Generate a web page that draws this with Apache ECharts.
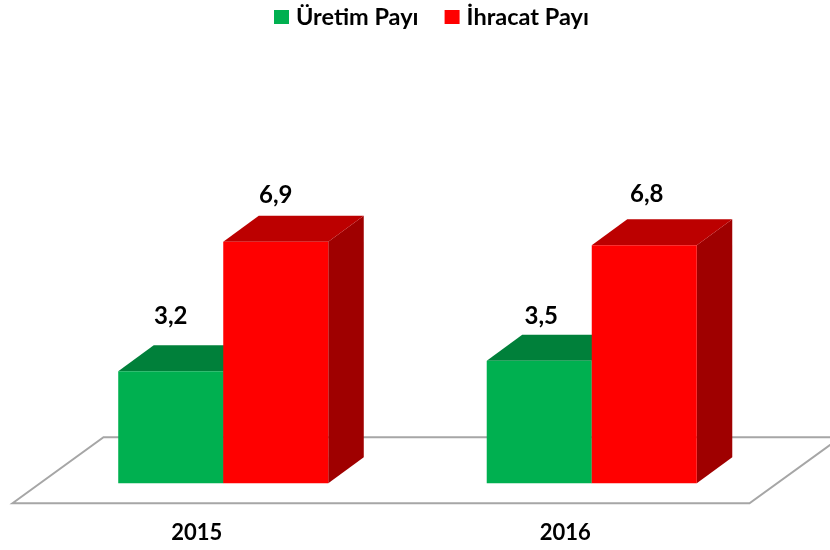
<!DOCTYPE html>
<html lang="tr">
<head>
    <meta charset="UTF-8">
    <script type="text/javascript" src="https://cdn.jsdelivr.net/npm/echarts@6/dist/echarts.min.js"></script>
    <title>Üretim ve İhracat Payı</title>
    <style type="text/css">
        html, body { margin: 0; padding: 0; background: #fff; }
        #chart { width: 830px; height: 550px; }
    </style>
</head>
<body>
    <div id="chart"></div>
    <script type="text/javascript">
        const years = ["2015", "2016"]
        const uretimPayi = [3.2, 3.5]
        const ihracatPayi = [6.9, 6.8]

        const font = "Lato, Carlito, sans-serif"
        const depthX = 35.5 // bar depth, px
        const depthY = 26
        const barShare = 0.285 // bar width as a share of the category band
        const shiftX = 26.5 // the bars stand further back than the front floor edge

        // label lift above the front face, the source places these by hand
        const uretimLabel = [[0, 55], [2, 45]]
        const ihracatLabel = [[0, 47], [2.5, 51]]

        // side: -1 left bar, 0 right bar
        function bar3d(side, colors, labelPos) {
            return function (params, api) {
                let i = api.value(0)
                let top = api.coord([i, api.value(1)])
                let base = api.coord([i, 0])
                let w = api.size([1, 0])[0] * barShare
                let x = top[0] + shiftX + side * w
                let y0 = base[1]
                let y1 = top[1]
                return {
                    type: "group",
                    children: [
                        {
                            type: "polygon",
                            shape: { points: [[x + w, y1], [x + w + depthX, y1 - depthY], [x + w + depthX, y0 - depthY], [x + w, y0]] },
                            style: { fill: colors[2] }
                        },
                        {
                            type: "polygon",
                            shape: { points: [[x, y1], [x + depthX, y1 - depthY], [x + w + depthX, y1 - depthY], [x + w, y1]] },
                            style: { fill: colors[1] }
                        },
                        {
                            type: "rect",
                            shape: { x: x, y: y1, width: w, height: y0 - y1 },
                            style: { fill: colors[0] }
                        },
                        {
                            type: "text",
                            style: {
                                x: x + w / 2 + labelPos[i][0],
                                y: y1 - labelPos[i][1],
                                text: api.value(1).toFixed(1).replace(".", ","),
                                fill: "#000",
                                font: "bold 24px " + font,
                                textAlign: "center",
                                textVerticalAlign: "middle"
                            }
                        }
                    ]
                }
            }
        }

        function renderFloor(params, api) {
            let rect = params.coordSys
            let y = api.coord([0, 0])[1]
            return {
                type: "polygon",
                shape: {
                    points: [
                        [rect.x, y + 20],
                        [rect.x + 91, y - 46],
                        [rect.x + rect.width + 91, y - 46],
                        [rect.x + rect.width, y + 20]
                    ]
                },
                style: { fill: "#fff", stroke: "#a6a6a6", lineWidth: 2 }
            }
        }

        let chart = echarts.init(document.getElementById("chart"))
        chart.setOption({
            animation: false,
            backgroundColor: "#fff",
            legend: {
                data: ["Üretim Payı", "İhracat Payı"],
                left: 269,
                top: 0,
                icon: "rect",
                itemWidth: 15,
                itemHeight: 14,
                itemGap: 26,
                selectedMode: false,
                textStyle: { fontFamily: font, fontWeight: "bold", fontSize: 23.5, color: "#000", padding: [0, 0, 0, 2] }
            },
            grid: { left: 12.5, right: 80.5, top: 133.3, bottom: 66.7 },
            xAxis: {
                type: "category",
                data: years,
                axisLine: { show: false },
                axisTick: { show: false },
                axisLabel: { margin: 39, fontFamily: font, fontWeight: "bold", fontSize: 22, color: "#000" }
            },
            yAxis: { type: "value", min: 0, max: 10, show: false },
            series: [
                {
                    type: "custom",
                    name: "floor",
                    silent: true,
                    z: 1,
                    clip: false,
                    data: [[0, 0]],
                    encode: { x: 0, y: 1 },
                    renderItem: renderFloor
                },
                {
                    type: "custom",
                    name: "Üretim Payı",
                    z: 2,
                    itemStyle: { color: "#00B050" },
                    data: years.map((y, i) => [i, uretimPayi[i]]),
                    encode: { x: 0, y: 1 },
                    renderItem: bar3d(-1, ["#00B050", "#00803A", "#006B30"], uretimLabel)
                },
                {
                    type: "custom",
                    name: "İhracat Payı",
                    z: 3,
                    itemStyle: { color: "#FF0000" },
                    data: years.map((y, i) => [i, ihracatPayi[i]]),
                    encode: { x: 0, y: 1 },
                    renderItem: bar3d(0, ["#FF0000", "#BC0000", "#9F0000"], ihracatLabel)
                }
            ]
        })
    </script>
</body>
</html>
